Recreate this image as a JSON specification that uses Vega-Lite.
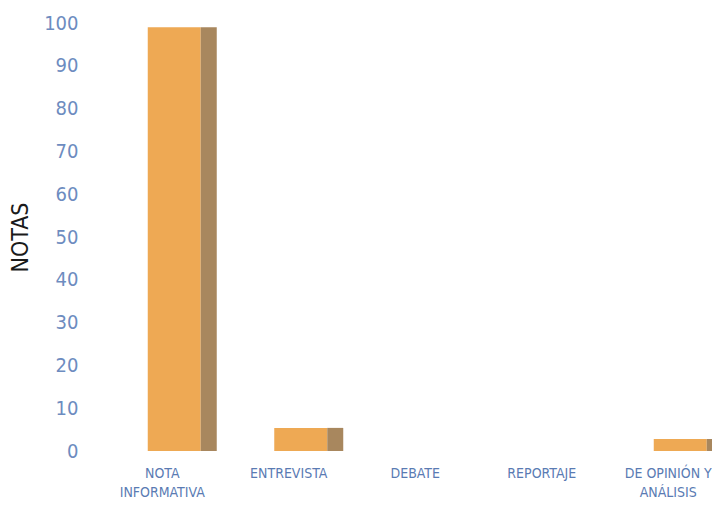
{
  "$schema": "https://vega.github.io/schema/vega-lite/v6.json",
  "width": 613,
  "height": 428,
  "autosize": {"type": "none"},
  "padding": {"left": 99, "top": 23, "right": 0, "bottom": 57},
  "background": "white",
  "config": {"view": {"stroke": null}, "font": "DejaVu Sans Condensed, sans-serif"},
  "data": {
    "values": [
      {"tipo": "NOTA INFORMATIVA", "notas": 99},
      {"tipo": "ENTREVISTA", "notas": 5.4},
      {"tipo": "DEBATE", "notas": 0},
      {"tipo": "REPORTAJE", "notas": 0},
      {"tipo": "DE OPINIÓN Y ANÁLISIS", "notas": 2.8}
    ]
  },
  "encoding": {
    "x": {
      "field": "tipo",
      "type": "nominal",
      "sort": null,
      "scale": {"range": [0, 632.5], "paddingInner": 0, "paddingOuter": 0},
      "axis": {
        "title": null,
        "labelAngle": 0,
        "ticks": false,
        "domain": false,
        "grid": false,
        "labelFontSize": 14,
        "labelFontWeight": "normal",
        "labelColor": "#5A7BB3",
        "labelPadding": 15,
        "labelLineHeight": 19,
        "labelOverlap": false,
        "labelLimit": 200,
        "labelExpr": "datum.value == 'NOTA INFORMATIVA' ? ['NOTA', 'INFORMATIVA'] : datum.value == 'DE OPINIÓN Y ANÁLISIS' ? ['DE OPINIÓN Y', 'ANÁLISIS'] : datum.value"
      }
    },
    "y": {
      "field": "notas",
      "type": "quantitative",
      "scale": {"domain": [0, 100], "nice": false},
      "axis": {
        "title": "NOTAS",
        "titleFontSize": 23,
        "titleFontWeight": "normal",
        "titleColor": "#1a1a1a",
        "titlePadding": 11,
        "labelFontSize": 20,
        "labelColor": "#6D8CC0",
        "labelPadding": 21,
        "ticks": false,
        "domain": false,
        "grid": false,
        "values": [0, 10, 20, 30, 40, 50, 60, 70, 80, 90, 100]
      }
    }
  },
  "layer": [
    {"mark": {"type": "bar", "width": 53, "xOffset": 12, "color": "#EEA954"}},
    {"mark": {"type": "bar", "width": 16, "xOffset": 46.5, "color": "#A8875E"}}
  ]
}
